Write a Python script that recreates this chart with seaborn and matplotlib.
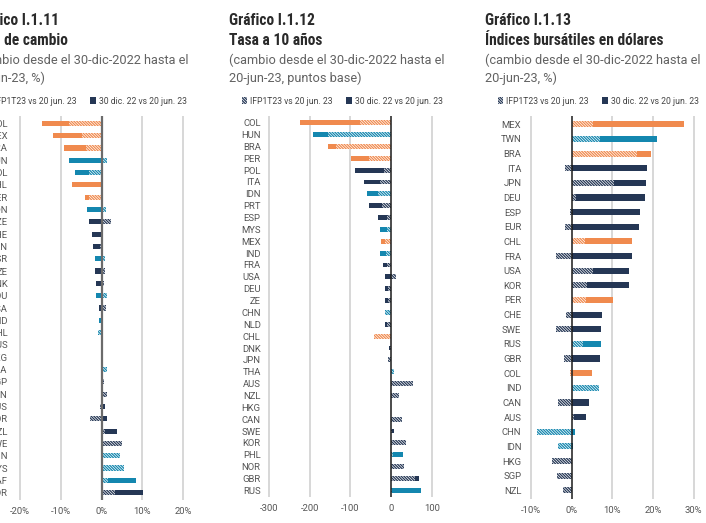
import numpy as np
import pandas as pd
import matplotlib
matplotlib.use("Agg")
import matplotlib.pyplot as plt
from matplotlib.patches import Patch
import seaborn as sns

# ---------------- data ----------------
countries1 = ["COL", "MEX", "BRA", "HUN", "POL", "CHL", "PER", "IDN", "CZE", "CHE", "CAN",
              "ISR", "ZE", "DNK", "ROU", "USA", "IND", "PHL", "RUS", "HKG", "THA", "SGP",
              "TWN", "AUS", "KOR", "NZL", "SWE", "CHN", "MYS", "ZAF", "NOR"]
groups1 = ["o", "o", "o", "b", "b", "o", "o", "b", "d", "d", "d", "b", "d", "d", "b", "d",
           "b", "b", "b", "d", "b", "d", "d", "d", "d", "d", "d", "b", "b", "b", "d"]
solid1 = [-14.6, -12.0, -9.1, -8.1, -6.5, -7.3, -4.1, -3.5, -3.1, -2.4, -2.0, -1.6, -1.7,
          -1.5, -1.3, -0.7, -0.6, -0.2, 0.0, -0.2, 0.2, 0.2, 0.3, 0.9, 1.2, 3.7, 0.3, 0.0,
          0.3, 8.3, 10.2]
hatch1 = [-8.1, -4.9, -3.8, 1.2, -3.0, 0.2, -3.0, 1.1, 2.2, 0.3, -0.5, 0.8, 0.7, 0.6, 1.2,
          1.0, 0.0, -1.0, 0.0, 0.0, 1.4, 0.6, 1.2, -0.4, -2.8, 0.8, 5.1, 4.5, 5.4, 1.6, 3.3]

countries2 = ["COL", "HUN", "BRA", "PER", "POL", "ITA", "IDN", "PRT", "ESP", "MYS", "MEX",
              "IND", "FRA", "USA", "DEU", "ZE", "CHN", "NLD", "CHL", "DNK", "JPN", "THA",
              "AUS", "NZL", "HKG", "CAN", "SWE", "KOR", "PHL", "NOR", "GBR", "RUS"]
groups2 = ["o", "b", "o", "o", "d", "d", "b", "d", "d", "b", "o", "b", "d", "d", "d", "d",
           "b", "d", "o", "d", "d", "b", "d", "d", "d", "d", "d", "d", "b", "d", "d", "b"]
solid2 = [-225, -191, -154, -99, -89, -67, -60, -53, -31, -27, -25, -26, -19, -16, -16, -16,
          -4, -15, -2, -4, -3, 3, 3, 2, 0, 3, 7, 3, 30, 5, 68, 73]
hatch2 = [-76, -154, -135, -54, -17, -27, -33, -23, -11, -9, -15, -12, -9, 12, -7, -7,
          -16, -9, -43, -2, -8, 8, 55, 20, 0, 27, 3, 38, 6, 32, 59, 3]

countries3 = ["MEX", "TWN", "BRA", "ITA", "JPN", "DEU", "ESP", "EUR", "CHL", "FRA", "USA",
              "KOR", "PER", "CHE", "SWE", "RUS", "GBR", "COL", "IND", "CAN", "AUS", "CHN",
              "IDN", "HKG", "SGP", "NZL"]
groups3 = ["o", "b", "o", "d", "d", "d", "d", "d", "o", "d", "d", "d", "o", "d", "d", "b",
           "d", "o", "b", "d", "d", "b", "b", "d", "d", "d"]
solid3 = [27.6, 20.9, 19.5, 18.6, 18.3, 18.0, 16.9, 16.6, 14.8, 14.8, 14.2, 14.2, 10.2, 7.5,
          7.3, 7.2, 7.0, 5.0, 0.3, 4.3, 3.5, 0.7, 0.4, -0.5, -0.5, -0.5]
hatch3 = [5.2, 7.0, 16.0, -1.6, 10.4, 1.1, -0.4, -1.6, 3.3, -3.9, 5.3, 3.7, 3.5, -1.4, -3.9,
          2.9, -2.0, -0.3, 6.6, -3.3, 0.5, -8.6, -3.3, -4.9, -3.7, -2.2]

legend_labels = ["IFP1T23 vs 20 jun. 23", "30 dic. 22 vs 20 jun. 23"]
ticks1 = [-20, -10, 0, 10, 20]
ticklabels1 = ["-20%", "-10%", "0%", "10%", "20%"]
ticks2 = [-300, -200, -100, 0, 100]
ticklabels2 = ["-300", "-200", "-100", "0", "100"]
ticks3 = [-10, 0, 10, 20, 30]
ticklabels3 = ["-10%", "0%", "10%", "20%", "30%"]

titles = [("Gráfico I.1.11", "Tipo de cambio", "(cambio desde el 30-dic-2022 hasta el", "20-jun-23, %)"),
          ("Gráfico I.1.12", "Tasa a 10 años", "(cambio desde el 30-dic-2022 hasta el", "20-jun-23, puntos base)"),
          ("Gráfico I.1.13", "Índices bursátiles en dólares", "(cambio desde el 30-dic-2022 hasta el", "20-jun-23, %)")]

# ---------------- style ----------------
sns.set_theme(style="white")
plt.rcParams["font.family"] = ["Roboto", "DejaVu Sans"]
plt.rcParams["hatch.linewidth"] = 0.9

palette = {"o": "#F08A4E", "b": "#1487AF", "d": "#253755"}
W, H = 706, 523
fig = plt.figure(figsize=(W / 100, H / 100), dpi=100)


def fx(px):
    return px / W


def fy(py):
    return 1 - py / H


panels = [
    dict(c=countries1, g=groups1, s=solid1, h=hatch1, lo=-20, hi=20, plo=20, phi=183.3,
         row0=123.3, rowN=492.7, ticks=ticks1, tl=ticklabels1, pad=7.8, zc="#6b6b6b", zw=1.6,
         tx=-27),
    dict(c=countries2, g=groups2, s=solid2, h=hatch2, lo=-300, hi=100, plo=269, phi=431.7,
         row0=122.7, rowN=490.3, ticks=ticks2, tl=ticklabels2, pad=4.8, zc="#1a1a1a", zw=1.1,
         tx=229),
    dict(c=countries3, g=groups3, s=solid3, h=hatch3, lo=-10, hi=30, plo=531, phi=693.7,
         row0=124.3, rowN=490.3, ticks=ticks3, tl=ticklabels3, pad=5.8, zc="#1a1a1a", zw=1.1,
         tx=485),
]

hatch_pat = "\\" * 12
title_family = ["Roboto Condensed", "Liberation Sans Narrow", "Roboto", "DejaVu Sans"]

for i, P in enumerate(panels):
    n = len(P["c"])
    sp = (P["rowN"] - P["row0"]) / (n - 1)
    top = P["row0"] - 0.6 * sp
    bot = P["rowN"] + 0.6 * sp
    scale = (P["phi"] - P["plo"]) / (P["hi"] - P["lo"])
    m = 0.01 * (P["hi"] - P["lo"])
    xl, xr = P["lo"] - m, P["hi"] + m
    left_px = P["plo"] - m * scale
    right_px = P["phi"] + m * scale
    ax = fig.add_axes([fx(left_px), fy(bot), (right_px - left_px) / W, (bot - top) / H])

    df = pd.DataFrame({"pais": P["c"], "grupo": P["g"], "solid": P["s"], "hatch": P["h"]})
    sns.barplot(data=df, y="pais", x="solid", hue="grupo", palette=palette, order=P["c"],
                hue_order=["o", "b", "d"], dodge=False, width=0.42, saturation=1,
                errorbar=None, legend=False, ax=ax, linewidth=0, zorder=2)
    k = len(ax.patches)
    sns.barplot(data=df, y="pais", x="hatch", hue="grupo", palette=palette, order=P["c"],
                hue_order=["o", "b", "d"], dodge=False, width=0.42, saturation=1,
                errorbar=None, legend=False, ax=ax, fill=False, zorder=3)
    for p in ax.patches[k:]:
        col = p.get_edgecolor()
        p.set_facecolor("white")
        p.set_edgecolor(col)
        p.set_hatch(hatch_pat)
        p.set_linewidth(0)
        p.set_zorder(3)

    ax.set_xlim(xl, xr)
    ax.set_ylim(n - 1 + 0.6, -0.6)
    ax.set_xticks(P["ticks"])
    ax.set_xticklabels(P["tl"])
    for t in P["ticks"]:
        if t != 0:
            ax.axvline(t, color="#d4d4d4", lw=1.3, zorder=0)
    ax.axvline(0, color=P["zc"], lw=P["zw"], zorder=5)
    ax.set_xlabel("")
    ax.set_ylabel("")
    for s in ax.spines.values():
        s.set_visible(False)
    ax.tick_params(axis="y", length=0, pad=P["pad"], labelsize=6.8, labelcolor="#555555")
    ax.tick_params(axis="x", length=0, pad=5.0, labelsize=6.8, labelcolor="#555555")
    ax.grid(False)

    # titles
    t1, t2, s1, s2 = titles[i]
    tx = P["tx"]
    fig.text(fx(tx), fy(25), t1, fontsize=11.2, fontweight="bold", color="#2a2a2a",
             family=title_family, fontstretch="condensed", va="baseline", ha="left")
    fig.text(fx(tx), fy(45), t2, fontsize=11.2, fontweight="bold", color="#2a2a2a",
             family=title_family, fontstretch="condensed", va="baseline", ha="left")
    fig.text(fx(tx), fy(60), s1, fontsize=9.2, color="#626262", va="center", ha="left")
    fig.text(fx(tx), fy(78), s2, fontsize=9.2, color="#626262", va="center", ha="left")

    handles = [Patch(facecolor="white", edgecolor=palette["d"], hatch=hatch_pat, linewidth=0),
               Patch(facecolor=palette["d"], edgecolor=palette["d"], linewidth=0)]
    ax.legend(handles, legend_labels, loc="center left", ncol=2, frameon=False,
              bbox_to_anchor=(fx(tx + 13), fy(101)), bbox_transform=fig.transFigure,
              fontsize=6.2, handlelength=0.6, handleheight=0.8, handletextpad=0.35,
              columnspacing=1.6, labelcolor="#444444", borderaxespad=0, borderpad=0)

fig.savefig("out.png", dpi=100)
